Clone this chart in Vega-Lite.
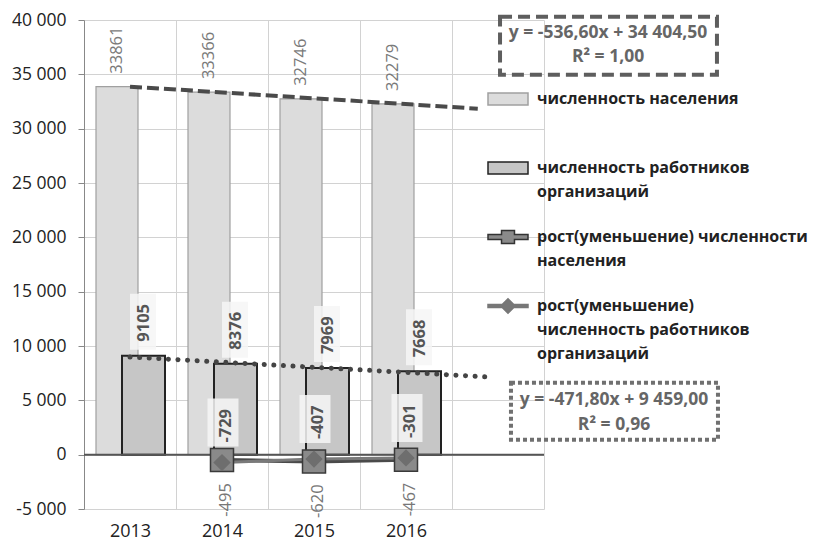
{
  "$schema": "https://vega.github.io/schema/vega-lite/v6.json",
  "width": 460,
  "height": 489,
  "autosize": "none",
  "padding": {"left": 84, "top": 20, "right": 270, "bottom": 35},
  "config": {
    "view": {"stroke": null},
    "font": "Open Sans",
    "locale": {"number": {"decimal": ",", "thousands": " ", "grouping": [3], "currency": ["", ""], "minus": "-"}}
  },
  "datasets": {
    "main": [
      {"year": "2013", "pop": 33861, "wrk": 9105},
      {"year": "2014", "pop": 33366, "wrk": 8376},
      {"year": "2015", "pop": 32746, "wrk": 7969},
      {"year": "2016", "pop": 32279, "wrk": 7668}
    ],
    "change": [
      {"year": "2014", "series": "рост(уменьшение) численности населения", "value": -495},
      {"year": "2015", "series": "рост(уменьшение) численности населения", "value": -620},
      {"year": "2016", "series": "рост(уменьшение) численности населения", "value": -467},
      {"year": "2014", "series": "рост(уменьшение) численность работников организаций", "value": -729},
      {"year": "2015", "series": "рост(уменьшение) численность работников организаций", "value": -407},
      {"year": "2016", "series": "рост(уменьшение) численность работников организаций", "value": -301}
    ],
    "trend": [
      {"t": 1, "v": 33868, "series": "pop"},
      {"t": 4.78, "v": 31839, "series": "pop"},
      {"t": 1, "v": 8987, "series": "wrk"},
      {"t": 4.91, "v": 7142, "series": "wrk"}
    ],
    "one": [{}]
  },
  "layer": [
    {
      "layer": [
        {
          "data": {"name": "main"},
          "mark": {"type": "bar", "width": 42, "xOffset": -13, "fill": "#dcdcdc", "stroke": "#a0a0a0", "strokeWidth": 1.2},
          "encoding": {
            "x": {
              "field": "year", "type": "ordinal",
              "scale": {"domain": ["2013", "2014", "2015", "2016", ""], "paddingInner": 0, "paddingOuter": 0},
              "axis": {"title": null, "labelAngle": 0, "tickBand": "extent", "grid": true, "gridColor": "#d2d2d2", "ticks": false, "domain": false, "labelFontSize": 18, "labelColor": "#222", "labelPadding": 13}
            },
            "y": {
              "field": "pop", "type": "quantitative", "title": null,
              "scale": {"domain": [-5000, 40000], "nice": false, "zero": false},
              "axis": {"values": [-5000, 0, 5000, 10000, 15000, 20000, 25000, 30000, 35000, 40000], "format": ",d", "gridColor": "#d2d2d2", "domainColor": "#888", "tickColor": "#888", "tickSize": 6, "labelFontSize": 17.5, "labelColor": "#222", "labelPadding": 12}
            }
          }
        },
        {
          "data": {"name": "main"},
          "mark": {"type": "bar", "width": 43, "xOffset": 13.5, "fill": "#c6c6c6", "stroke": "#222", "strokeWidth": 2},
          "encoding": {
            "x": {"field": "year", "type": "ordinal"},
            "y": {"field": "wrk", "type": "quantitative", "title": null}
          }
        },
        {
          "data": {"name": "one"},
          "mark": {"type": "rule", "color": "#555", "strokeWidth": 2},
          "encoding": {"y": {"datum": 0}}
        },
        {
          "data": {"name": "main"},
          "mark": {"type": "point", "shape": "M-1.3,-6.2H1.3V-0.6H-1.3Z", "size": 400, "filled": true, "fill": "#f6f6f6", "opacity": 0.85, "xOffset": 13},
          "encoding": {
            "x": {"field": "year", "type": "ordinal"},
            "y": {"field": "wrk", "type": "quantitative", "title": null}
          }
        },
        {
          "data": {"name": "main"},
          "mark": {"type": "text", "angle": 270, "align": "left", "baseline": "middle", "dx": 13, "xOffset": -13, "fontSize": 16.5, "color": "#7a7a7a"},
          "encoding": {
            "x": {"field": "year", "type": "ordinal"},
            "y": {"field": "pop", "type": "quantitative", "title": null},
            "text": {"field": "pop", "type": "quantitative", "format": "d"}
          }
        },
        {
          "data": {"name": "main"},
          "mark": {"type": "text", "angle": 270, "align": "left", "baseline": "middle", "dx": 14, "xOffset": 14, "fontSize": 16.5, "fontWeight": "bold", "color": "#555"},
          "encoding": {
            "x": {"field": "year", "type": "ordinal"},
            "y": {"field": "wrk", "type": "quantitative", "title": null},
            "text": {"field": "wrk", "type": "quantitative", "format": "d"}
          }
        },
        {
          "data": {"name": "change"},
          "transform": [{"filter": "datum.series == 'рост(уменьшение) численности населения'"}],
          "mark": {"type": "line", "color": "#4a4a4a", "strokeWidth": 4},
          "encoding": {
            "x": {"field": "year", "type": "ordinal"},
            "y": {"field": "value", "type": "quantitative", "title": null}
          }
        },
        {
          "data": {"name": "change"},
          "transform": [{"filter": "datum.series == 'рост(уменьшение) численность работников организаций'"}],
          "mark": {"type": "line", "color": "#7a7a7a", "strokeWidth": 3},
          "encoding": {
            "x": {"field": "year", "type": "ordinal"},
            "y": {"field": "value", "type": "quantitative", "title": null}
          }
        },
        {
          "data": {"name": "change"},
          "transform": [{"filter": "datum.series == 'рост(уменьшение) численности населения'"}],
          "mark": {"type": "point", "shape": "square", "size": 529, "filled": true, "fill": "#8a8a8a", "stroke": "#3a3a3a", "strokeWidth": 1.5, "opacity": 1},
          "encoding": {
            "x": {"field": "year", "type": "ordinal"},
            "y": {"field": "value", "type": "quantitative", "title": null}
          }
        },
        {
          "data": {"name": "change"},
          "transform": [{"filter": "datum.series == 'рост(уменьшение) численность работников организаций'"}],
          "mark": {"type": "point", "shape": "diamond", "size": 300, "filled": true, "fill": "#6e6e6e", "opacity": 1},
          "encoding": {
            "x": {"field": "year", "type": "ordinal"},
            "y": {"field": "value", "type": "quantitative", "title": null}
          }
        },
        {
          "data": {"name": "change"},
          "transform": [{"filter": "datum.series == 'рост(уменьшение) численность работников организаций'"}],
          "mark": {"type": "point", "shape": "M-1.55,-6.4H1.55V-1.6H-1.55Z", "size": 400, "filled": true, "fill": "#f6f6f6", "opacity": 0.85, "xOffset": 1},
          "encoding": {
            "x": {"field": "year", "type": "ordinal"},
            "y": {"field": "value", "type": "quantitative", "title": null}
          }
        },
        {
          "data": {"name": "change"},
          "transform": [{"filter": "datum.series == 'рост(уменьшение) численность работников организаций'"}],
          "mark": {"type": "text", "angle": 270, "align": "left", "baseline": "middle", "dx": 20, "xOffset": 4, "fontSize": 16.5, "fontWeight": "bold", "color": "#555"},
          "encoding": {
            "x": {"field": "year", "type": "ordinal"},
            "y": {"field": "value", "type": "quantitative", "title": null},
            "text": {"field": "value", "type": "quantitative", "format": "d"}
          }
        },
        {
          "data": {"name": "change"},
          "transform": [{"filter": "datum.series == 'рост(уменьшение) численности населения'"}],
          "mark": {"type": "text", "angle": 270, "align": "right", "baseline": "middle", "dx": -23, "xOffset": 4, "fontSize": 16.5, "color": "#777"},
          "encoding": {
            "x": {"field": "year", "type": "ordinal"},
            "y": {"field": "value", "type": "quantitative", "title": null},
            "text": {"field": "value", "type": "quantitative", "format": "d"}
          }
        },
        {
          "data": {"name": "change"},
          "mark": {"type": "point", "filled": true, "opacity": 0},
          "encoding": {
            "x": {"field": "year", "type": "ordinal"},
            "y": {"field": "value", "type": "quantitative", "title": null},
            "fill": {
              "field": "series", "type": "nominal",
              "scale": {
                "domain": ["численность населения", "численность  работников организаций", "рост(уменьшение) численности населения", "рост(уменьшение) численность работников организаций"],
                "range": ["#dcdcdc", "#c6c6c6", "#8a8a8a", "#777777"]
              },
              "legend": {
                "title": null, "orient": "none", "legendX": 415, "legendY": 70, "padding": 0,
                "symbolSize": 256, "symbolOpacity": 1, "symbolStrokeWidth": 1.5,
                "labelFont": "Open Sans", "labelFontSize": 16, "labelFontWeight": "bold", "labelColor": "#222", "labelLimit": 0, "labelOffset": 20,
                "rowPadding": 2, "gridAlign": "all",
                "labelExpr": "datum.label == 'численность  работников организаций' ? [' численность  работников', 'организаций'] : datum.label == 'рост(уменьшение) численности населения' ? ['рост(уменьшение) численности', 'населения'] : datum.label == 'рост(уменьшение) численность работников организаций' ? ['рост(уменьшение)', 'численность работников', 'организаций'] : datum.label",
                "encode": {
                  "symbols": {"update": {"fill": {"scale": "fill", "field": "value"}, "stroke": {"scale": "stroke", "field": "value"}}},
                  "labels": {"update": {"lineHeight": {"value": 24}}}
                }
              }
            },
            "stroke": {
              "field": "series", "type": "nominal",
              "scale": {
                "domain": ["численность населения", "численность  работников организаций", "рост(уменьшение) численности населения", "рост(уменьшение) численность работников организаций"],
                "range": ["#a0a0a0", "#222222", "#333333", "#777777"]
              }
            },
            "shape": {
              "field": "series", "type": "nominal",
              "scale": {
                "domain": ["численность населения", "численность  работников организаций", "рост(уменьшение) численности населения", "рост(уменьшение) численность работников организаций"],
                "range": ["M-2.5,-0.75H2.5V0.75H-2.5Z", "M-2.5,-0.75H2.5V0.75H-2.5Z", "M-2.5,-0.31H-0.81V-0.81H0.81V-0.31H2.5V0.31H0.81V0.81H-0.81V0.31H-2.5Z", "M-2.5,-0.19H-0.72L0,-0.9L0.72,-0.19H2.5V0.19H0.72L0,0.9L-0.72,0.19H-2.5Z"]
              }
            }
          }
        }
      ]
    },
    {
      "layer": [
        {
          "data": {"name": "trend"},
          "transform": [{"filter": "datum.series == 'pop'"}],
          "mark": {"type": "line", "color": "#4a4a4a", "strokeWidth": 4, "strokeDash": [12, 5]},
          "encoding": {
            "x": {"field": "t", "type": "quantitative", "scale": {"domain": [0.5, 5.5], "nice": false, "zero": false}, "axis": null},
            "y": {"field": "v", "type": "quantitative", "title": null}
          }
        },
        {
          "data": {"name": "trend"},
          "transform": [{"filter": "datum.series == 'wrk'"}],
          "mark": {"type": "line", "color": "#444", "strokeWidth": 5, "strokeDash": [0.1, 9.5], "strokeCap": "round"},
          "encoding": {
            "x": {"field": "t", "type": "quantitative"},
            "y": {"field": "v", "type": "quantitative", "title": null}
          }
        },
        {
          "data": {"name": "one"},
          "mark": {"type": "rect", "fill": null, "stroke": "#5e5e5e", "strokeWidth": 4, "strokeDash": [12, 6], "clip": false},
          "encoding": {
            "x": {"datum": 5.022, "type": "quantitative"},
            "x2": {"datum": 7.38},
            "y": {"datum": 40309, "type": "quantitative"},
            "y2": {"datum": 34971}
          }
        },
        {
          "data": {"name": "one"},
          "mark": {"type": "rect", "fill": null, "stroke": "#707070", "strokeWidth": 4, "strokeDash": [4, 3], "clip": false},
          "encoding": {
            "x": {"datum": 5.141, "type": "quantitative"},
            "x2": {"datum": 7.391},
            "y": {"datum": 6626, "type": "quantitative"},
            "y2": {"datum": 1380}
          }
        },
        {
          "data": {"name": "one"},
          "mark": {"type": "text", "text": ["y = -536,60x + 34 404,50", "R² = 1,00"], "align": "center", "baseline": "middle", "lineHeight": 24, "fontSize": 17.5, "fontWeight": "bold", "color": "#666"},
          "encoding": {
            "x": {"datum": 6.196, "type": "quantitative"},
            "y": {"datum": 38837, "type": "quantitative"}
          }
        },
        {
          "data": {"name": "one"},
          "mark": {"type": "text", "text": ["y = -471,80x + 9 459,00", "R² = 0,96"], "align": "center", "baseline": "middle", "lineHeight": 25, "fontSize": 17.5, "fontWeight": "bold", "color": "#666"},
          "encoding": {
            "x": {"datum": 6.261, "type": "quantitative"},
            "y": {"datum": 5062, "type": "quantitative"}
          }
        }
      ]
    }
  ],
  "resolve": {"scale": {"x": "independent"}}
}
